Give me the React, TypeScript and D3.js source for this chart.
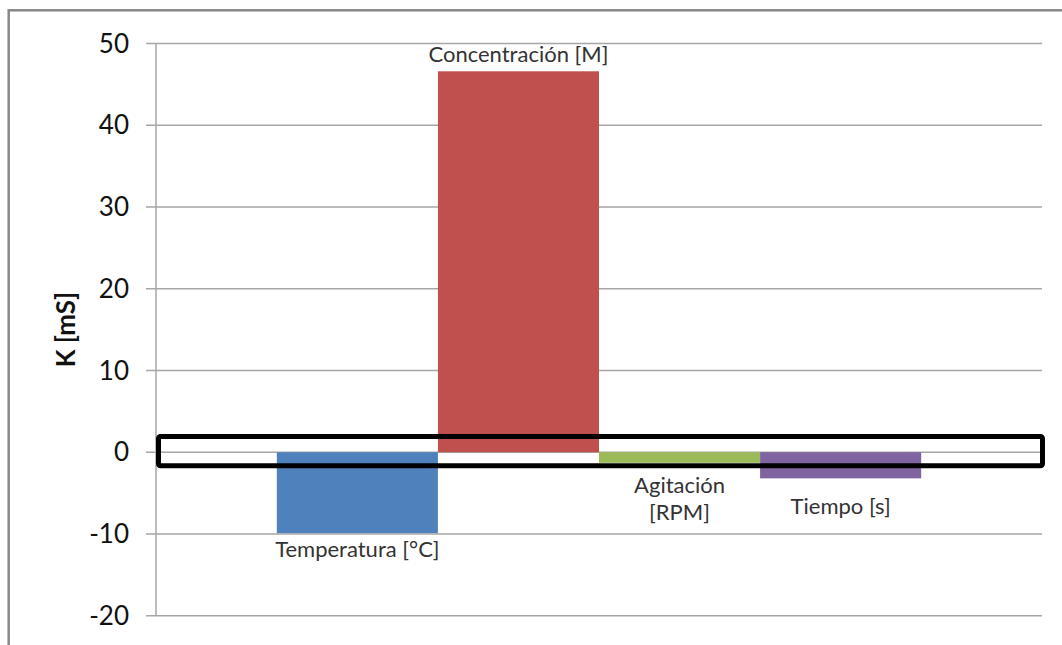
import React from "react";
import * as d3 from "d3";

const categories = ["Temperatura [°C]", "Concentración [M]", "Agitación [RPM]", "Tiempo [s]"];
const labelLines = [["Temperatura [°C]"], ["Concentración [M]"], ["Agitación", "[RPM]"], ["Tiempo [s]"]];
const values = [-9.9, 46.6, -1.3, -3.2];
const colors = ["#4F81BD", "#C0504D", "#9BBB59", "#8064A2"];
const yTicks = [-20, -10, 0, 10, 20, 30, 40, 50];
const yLabel = "K [mS]";

const W = 1062;
const H = 645;
const left = 156;
const right = 1042;
const top = 43.5;
const bottom = 615.7;
const FONT = "Lato, 'Open Sans', sans-serif";

export default function App() {
  const y = d3.scaleLinear().domain([-20, 50]).range([bottom, top]);
  const x = d3.scaleBand<string>().domain(categories).range([left, right]).paddingInner(0).paddingOuter(0.75);
  const labelOffsets = [24, 9, 30, 36];

  return (
    <svg width={W} height={H} style={{ position: "absolute", left: 0, top: 0, background: "#fff" }}>
      <rect x={0} y={0} width={W} height={H} fill="#fff" />
      {/* outer frame */}
      <rect x={8.7} y={10.3} width={W + 20} height={H + 20} fill="none" stroke="#888" strokeWidth={2.5} />
      {/* gridlines */}
      {yTicks.map((t) => (
        <line key={"g" + t} x1={left - 10} x2={right} y1={y(t)} y2={y(t)} stroke="#a6a6a6" strokeWidth={1.5} />
      ))}
      {/* y axis */}
      <line x1={left} x2={left} y1={y(50)} y2={y(-20)} stroke="#a6a6a6" strokeWidth={1.5} />
      {yTicks.map((t) => (
        <text
          key={"t" + t}
          x={129}
          y={y(t)}
          dy="0.35em"
          textAnchor="end"
          fontFamily={FONT}
          fontSize={26}
          fill="#111"
        >
          {t}
        </text>
      ))}
      <text
        transform={`translate(66,${y(15)}) rotate(-90)`}
        textAnchor="middle"
        dy="0.35em"
        fontFamily={FONT}
        fontWeight="bold"
        fontSize={26}
        fill="#111"
      >
        {yLabel}
      </text>
      {/* bars */}
      {categories.map((c, i) => {
        const v = values[i];
        const y0 = y(Math.max(0, v));
        const y1 = y(Math.min(0, v));
        return <rect key={c} x={x(c)} y={y0} width={x.bandwidth()} height={y1 - y0} fill={colors[i]} />;
      })}
      {/* data labels */}
      {categories.map((c, i) => {
        const v = values[i];
        const cx = (x(c) as number) + x.bandwidth() / 2;
        const lines = labelLines[i];
        if (v >= 0) {
          const base = y(v) - labelOffsets[i];
          return (
            <text key={"l" + c} x={cx} y={base} textAnchor="middle" fontFamily={FONT} fontSize={22} fill="#333">
              {lines.join(" ")}
            </text>
          );
        }
        const base = y(v) + labelOffsets[i];
        return (
          <text key={"l" + c} x={cx} y={base} textAnchor="middle" fontFamily={FONT} fontSize={22} fill="#333">
            {lines.map((ln, j) => (
              <tspan key={j} x={cx} y={base + j * 27}>
                {ln}
              </tspan>
            ))}
          </text>
        );
      })}
      {/* highlight rectangle */}
      <rect x={158.5} y={436.5} width={884} height={29.2} rx={2} fill="none" stroke="#000" strokeWidth={5} />
    </svg>
  );
}
